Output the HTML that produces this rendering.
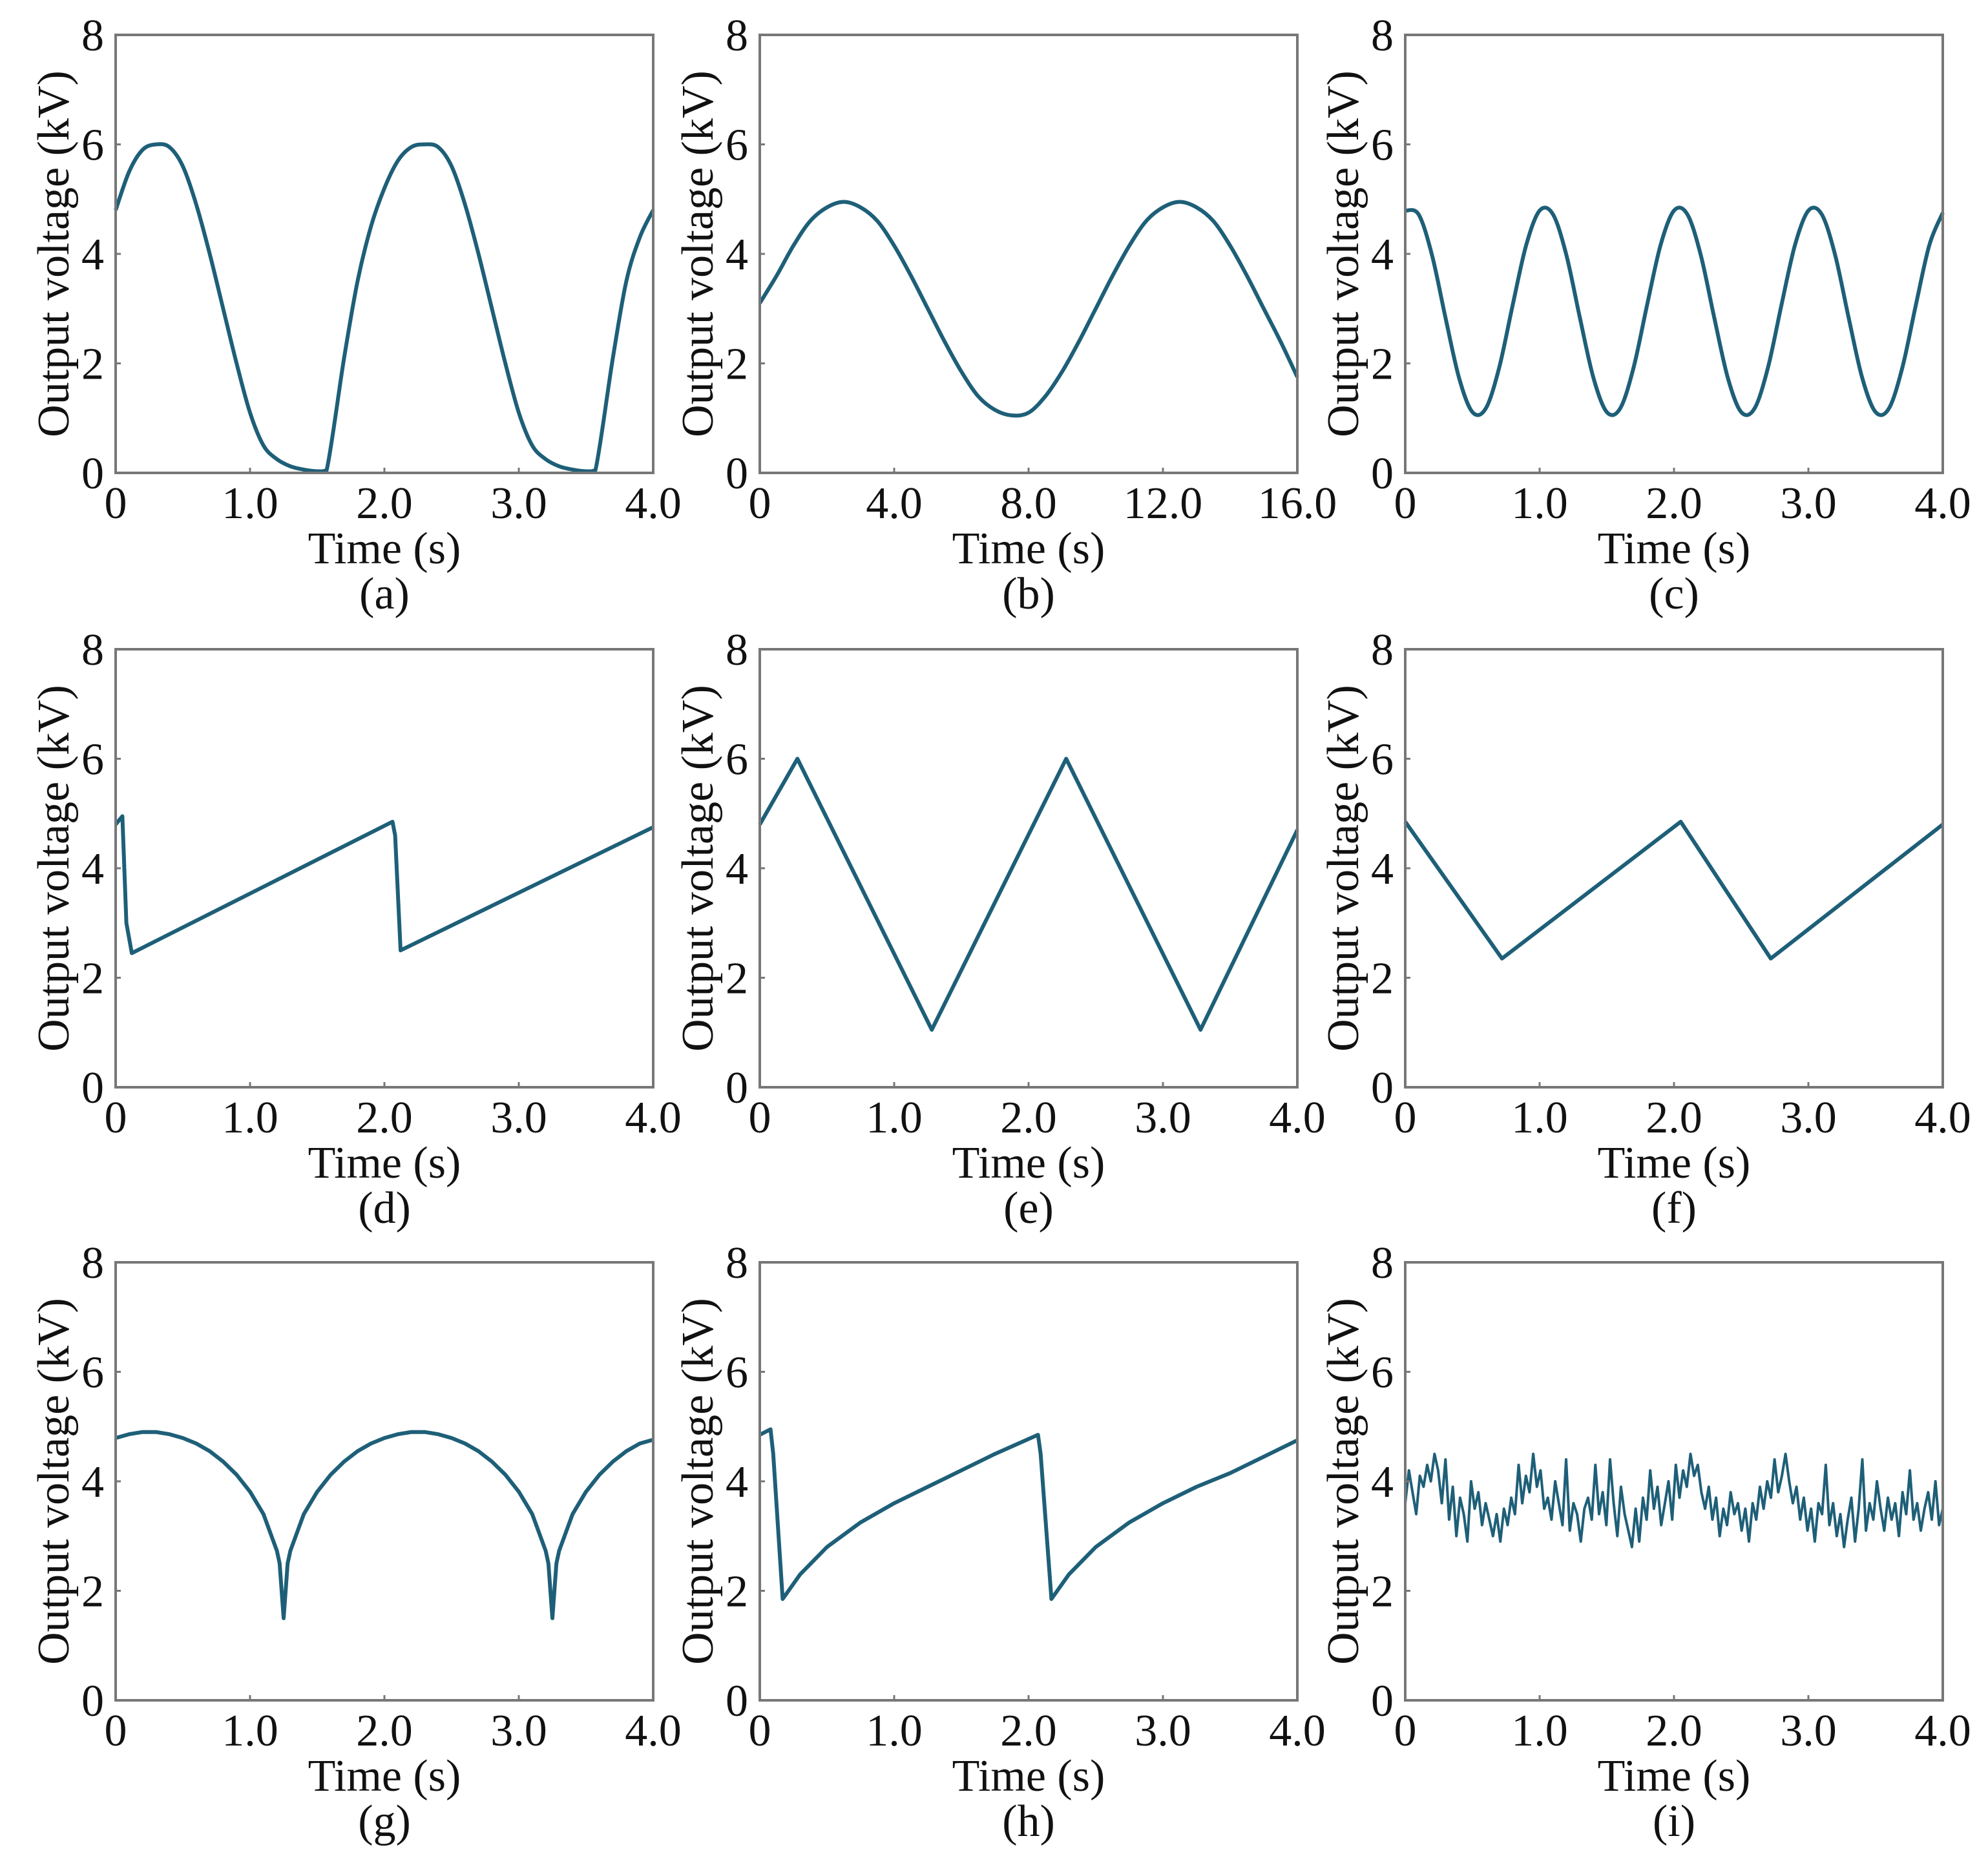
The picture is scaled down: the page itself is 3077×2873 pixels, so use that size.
<!DOCTYPE html>
<html><head><meta charset="utf-8">
<style>
html,body{margin:0;padding:0;background:#fff;}
svg{display:block;}
text{font-family:"Liberation Serif",serif;fill:#111;}
</style></head>
<body>
<svg id="fig" width="3077" height="2873" viewBox="0 0 3077 2873" xmlns="http://www.w3.org/2000/svg"></svg>
<script>
// ---- data ----
const panelLabels = ["(a)","(b)","(c)","(d)","(e)","(f)","(g)","(h)","(i)"];
const yTicks = [0,2,4,6,8];
const xTicks4 = [0,1,2,3,4];
const xTickLabels4 = ["0","1.0","2.0","3.0","4.0"];
const xTicks16 = [0,4,8,12,16];
const xTickLabels16 = ["0","4.0","8.0","12.0","16.0"];

const aT = [0,0.1,0.2,0.3,0.4,0.5,0.6,0.7,0.8,0.9,1.0,1.1,1.2,1.3,1.4,1.5,1.57,1.7,1.8,1.9,2.0,2.1,2.2,2.3,2.4,2.5,2.6,2.7,2.8,2.9,3.0,3.1,3.2,3.3,3.4,3.5,3.57,3.7,3.8,3.9,4.0];
const aV = [4.8,5.5,5.9,6.0,5.95,5.6,4.9,4.0,3.0,2.0,1.1,0.5,0.25,0.12,0.06,0.03,0.05,2.1,3.5,4.5,5.2,5.7,5.95,6.0,5.95,5.6,4.9,4.0,3.0,2.0,1.1,0.5,0.25,0.12,0.06,0.03,0.05,2.1,3.5,4.3,4.8];

const bT = [0,0.5,1,1.5,2,2.5,3,3.5,4,4.5,5,5.5,6,6.5,7,7.5,8,8.5,9,9.5,10,10.5,11,11.5,12,12.5,13,13.5,14,14.5,15,15.5,16];
const bV = [3.1,3.6,4.15,4.6,4.85,4.95,4.85,4.6,4.15,3.6,3.0,2.4,1.85,1.4,1.15,1.05,1.1,1.4,1.85,2.4,3.0,3.6,4.15,4.6,4.85,4.95,4.85,4.6,4.15,3.6,3.0,2.4,1.75];

const cT = [0,0.1,0.2,0.3,0.4,0.5,0.6,0.7,0.8,0.9,1.0,1.1,1.2,1.3,1.4,1.5,1.6,1.7,1.8,1.9,2.0,2.1,2.2,2.3,2.4,2.5,2.6,2.7,2.8,2.9,3.0,3.1,3.2,3.3,3.4,3.5,3.6,3.7,3.8,3.9,4.0];
const cV = [4.79,4.72,3.97,2.83,1.74,1.11,1.18,1.93,3.07,4.16,4.79,4.72,3.97,2.83,1.74,1.11,1.18,1.93,3.07,4.16,4.79,4.72,3.97,2.83,1.74,1.11,1.18,1.93,3.07,4.16,4.79,4.72,3.97,2.83,1.74,1.11,1.18,1.93,3.07,4.16,4.75];

const dT = [0,0.05,0.08,0.12,2.06,2.08,2.12,4.0];
const dV = [4.8,4.95,3.0,2.45,4.85,4.6,2.5,4.75];

const eT = [0,0.28,1.28,2.28,3.28,4.0];
const eV = [4.8,6.0,1.05,6.0,1.05,4.7];

const fT = [0,0.72,2.05,2.72,4.0];
const fV = [4.85,2.35,4.85,2.35,4.8];

const gT = [0,0.1,0.2,0.3,0.4,0.5,0.6,0.7,0.8,0.9,1.0,1.1,1.2,1.22,1.25,1.28,1.3,1.4,1.5,1.6,1.7,1.8,1.9,2.0,2.1,2.2,2.3,2.4,2.5,2.6,2.7,2.8,2.9,3.0,3.1,3.2,3.22,3.25,3.28,3.3,3.4,3.5,3.6,3.7,3.8,3.9,4.0];
const gV = [4.79,4.86,4.9,4.9,4.86,4.79,4.69,4.55,4.36,4.12,3.81,3.4,2.73,2.5,1.5,2.5,2.73,3.4,3.81,4.12,4.36,4.55,4.69,4.79,4.86,4.9,4.9,4.86,4.79,4.69,4.55,4.36,4.12,3.81,3.4,2.73,2.5,1.5,2.5,2.73,3.4,3.81,4.12,4.36,4.55,4.69,4.76];

const hT = [0,0.08,0.1,0.17,0.3,0.5,0.75,1.0,1.25,1.5,1.75,2.07,2.09,2.17,2.3,2.5,2.75,3.0,3.25,3.5,3.75,4.0];
const hV = [4.85,4.95,4.5,1.85,2.3,2.8,3.25,3.6,3.9,4.2,4.5,4.85,4.5,1.85,2.3,2.8,3.25,3.6,3.9,4.15,4.45,4.75];

const iV = [3.6,4.2,3.8,3.4,4.1,3.9,4.3,4.0,4.5,4.2,3.6,4.4,3.3,3.9,3.0,3.7,3.4,2.9,4.0,3.5,3.8,3.2,3.6,3.3,3.0,3.4,2.9,3.5,3.2,3.7,3.4,4.3,3.6,4.1,3.8,4.5,3.9,4.2,3.5,3.7,3.3,4.0,3.6,3.2,4.4,3.1,3.6,3.4,2.9,3.5,3.7,3.3,4.3,3.4,3.8,3.2,4.4,3.6,3.0,3.9,3.4,3.1,2.8,3.5,2.9,3.7,3.3,4.2,3.5,3.9,3.2,3.6,4.0,3.3,4.3,3.7,4.2,3.9,4.5,4.1,4.3,3.8,3.5,3.9,3.3,3.7,3.0,3.5,3.2,3.8,3.4,3.6,3.1,3.5,2.9,3.6,3.3,3.9,3.5,4.0,3.7,4.4,3.8,4.1,4.5,4.0,3.6,3.9,3.3,3.7,3.1,3.5,2.9,3.6,3.4,4.3,3.2,3.6,3.0,3.4,2.8,3.3,3.7,2.9,3.5,4.4,3.1,3.6,3.3,4.0,3.5,3.1,3.7,3.3,3.6,3.0,3.8,3.4,4.2,3.3,3.6,3.1,3.5,3.8,3.3,4.0,3.2,3.5];

// ---- layout ----
const NS = "http://www.w3.org/2000/svg";
const svg = document.getElementById('fig');
const colX = [179,1176,2175], rowY = [54,1005,1954];
const PW = 832, PH = 678;
const LINE = "#1e5f78";
const FS = 70;
const smoothPanels = [0,1,2];

function mk(tag, attrs, parent){
  const el = document.createElementNS(NS, tag);
  for (const k in attrs) el.setAttribute(k, attrs[k]);
  (parent||svg).appendChild(el);
  return el;
}

function pathFrom(pts, smooth, yMin, yMax){
  if (!smooth) return pts.map((p,k)=>(k?'L':'M')+p[0].toFixed(1)+','+p[1].toFixed(1)).join(' ');
  const cl = y => Math.max(yMin, Math.min(yMax, y));
  let d = 'M'+pts[0][0].toFixed(1)+','+pts[0][1].toFixed(1);
  for (let k=0;k<pts.length-1;k++){
    const p0=pts[Math.max(0,k-1)], p1=pts[k], p2=pts[k+1], p3=pts[Math.min(pts.length-1,k+2)];
    const c1=[p1[0]+(p2[0]-p0[0])/6, cl(p1[1]+(p2[1]-p0[1])/6)];
    const c2=[p2[0]-(p3[0]-p1[0])/6, cl(p2[1]-(p3[1]-p1[1])/6)];
    d+=' C'+c1[0].toFixed(1)+','+c1[1].toFixed(1)+' '+c2[0].toFixed(1)+','+c2[1].toFixed(1)+' '+p2[0].toFixed(1)+','+p2[1].toFixed(1);
  }
  return d;
}

const iT = iV.map((v,k)=> k*4/(iV.length-1));
const series = [[aT,aV],[bT,bV],[cT,cV],[dT,dV],[eT,eV],[fT,fV],[gT,gV],[hT,hV],[iT,iV]];

series.forEach((s,idx)=>{
  const L = colX[idx%3], T = rowY[Math.floor(idx/3)];
  const xmax = idx===1 ? 16 : 4;
  const xt = idx===1 ? xTicks16 : xTicks4;
  const xl = idx===1 ? xTickLabels16 : xTickLabels4;
  const X = t => L + t/xmax*PW;
  const Y = v => T + PH - v/8*PH;
  const g = mk('g',{});
  
  

  const pts = s[0].map((t,k)=>[X(t),Y(s[1][k])]);
  const p = mk('path',{d:pathFrom(pts, smoothPanels.includes(idx), T, T+PH-2),fill:'none',stroke:LINE,'stroke-width':idx===8?4:6,'stroke-linejoin':'round'},g);
  
  

  const fr = mk('rect',{x:L,y:T,width:PW,height:PH,fill:'none',stroke:'#777','stroke-width':4},g);
  
  

  yTicks.forEach(v=>{
    mk('line',{x1:L,x2:L+8,y1:Y(v),y2:Y(v),stroke:'#777','stroke-width':3},g);
    const tx = mk('text',{x:L-18,y:Y(v)+24,'text-anchor':'end','font-size':FS},g);
    tx.textContent = String(v);
    
    
  });
  xt.forEach((t,k)=>{
    mk('line',{x1:X(t),x2:X(t),y1:T+PH,y2:T+PH-8,stroke:'#777','stroke-width':3},g);
    const tx = mk('text',{x:X(t),y:T+PH+70,'text-anchor':'middle','font-size':FS},g);
    tx.textContent = xl[k];
    
    
  });
  const xtTitle = mk('text',{x:L+PW/2,y:T+PH+140,'text-anchor':'middle','font-size':FS},g);
  xtTitle.textContent = 'Time (s)';
  
  
  const cy = T+PH/2, cx = L-97;
  const ytTitle = mk('text',{x:cx,y:cy+24,'text-anchor':'middle','font-size':FS,transform:'rotate(-90 '+cx+' '+cy+')'},g);
  ytTitle.textContent = 'Output voltage (kV)';
  
  
  const pl = mk('text',{x:L+PW/2,y:T+PH+210,'text-anchor':'middle','font-size':FS},g);
  pl.textContent = panelLabels[idx];
  
  
});
</script>
</body></html>
